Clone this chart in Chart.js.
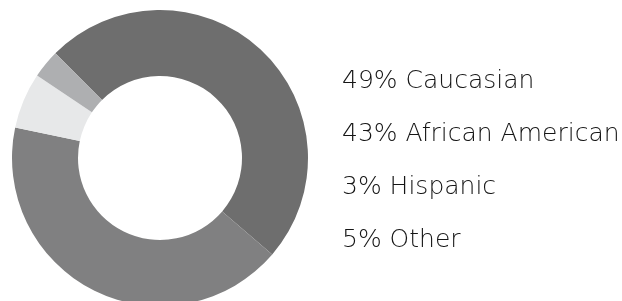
<!DOCTYPE html>
<html>
<head>
<meta charset="utf-8">
<script src="https://cdn.jsdelivr.net/npm/chart.js@4"></script>
<style>
  html, body { margin: 0; padding: 0; background: #fff; overflow: hidden; }
  #wrap { position: relative; width: 622px; height: 301px; overflow: hidden; }
  #pie { position: absolute; left: 0; top: 0; }
  #legend { position: absolute; left: 342px; top: 53px; font-family: "DejaVu Sans", sans-serif;
            font-weight: 200; font-size: 25px; line-height: 53px; color: #151515; white-space: nowrap; }
</style>
</head>
<body>
<div id="wrap">
  <canvas id="pie" width="622" height="316"></canvas>
  <div id="legend"></div>
</div>
<script>
// legend order
var groups = ['Caucasian', 'African American', 'Hispanic', 'Other'];
var shares = [49, 43, 3, 5];
// slice sizes as drawn in the ring
var sliceValues = [48.8, 42, 3.1, 6.1];
var colors = ['#6e6e6e', '#808081', '#aeafb1', '#e7e8e9'];
// clockwise order of the slices
var ringOrder = [0, 1, 3, 2];

var legend = document.getElementById('legend');
groups.forEach(function (g, i) {
  var row = document.createElement('div');
  row.textContent = shares[i] + '% ' + g;
  legend.appendChild(row);
});

var ctx = document.getElementById('pie').getContext('2d');
var pie = new Chart(ctx, {
  type: 'doughnut',
  data: {
    labels: ringOrder.map(function (i) { return groups[i]; }),
    datasets: [{
      data: ringOrder.map(function (i) { return sliceValues[i]; }),
      backgroundColor: ringOrder.map(function (i) { return colors[i]; }),
      borderWidth: 0
    }]
  },
  options: {
    responsive: false,
    animation: false,
    events: [],
    rotation: -45,
    cutout: '55.4%',
    layout: { padding: { top: 10, bottom: 10, left: 12, right: 314 } },
    plugins: {
      legend: { display: false },
      tooltip: { enabled: false }
    }
  }
});
</script>
</body>
</html>
